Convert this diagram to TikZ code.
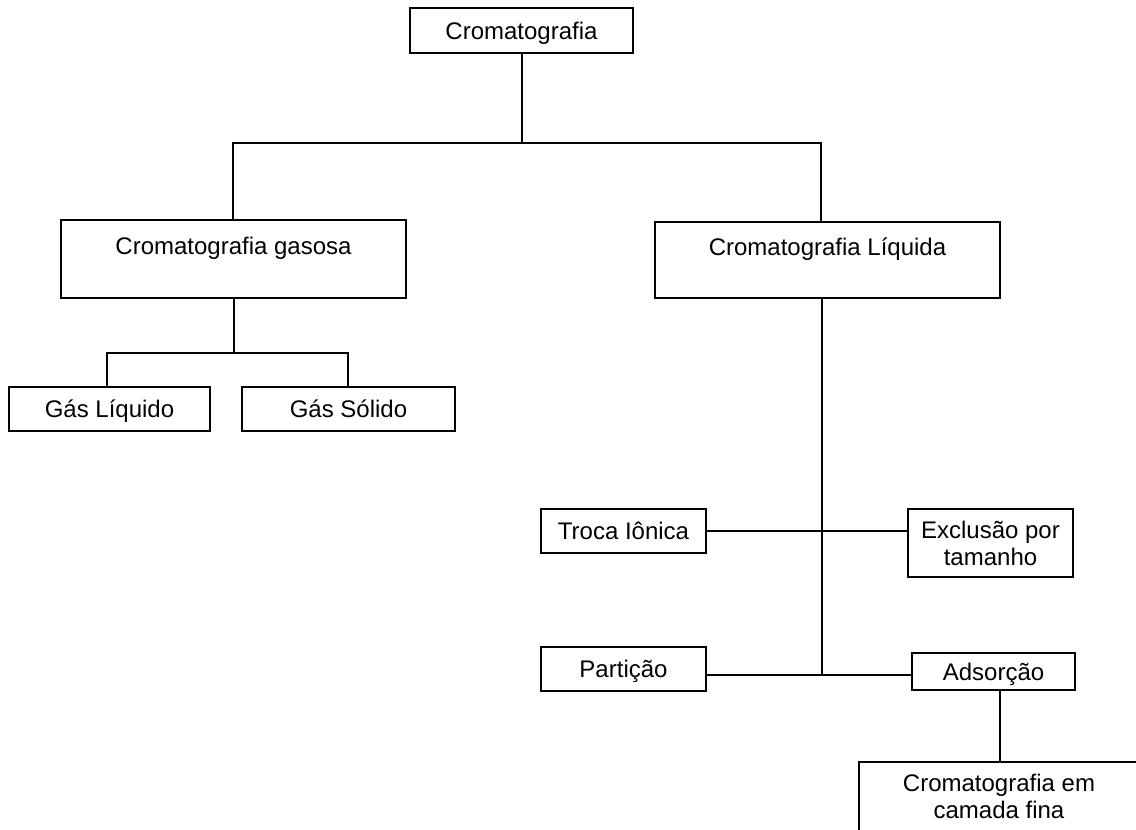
\documentclass[tikz,border=0pt]{standalone}
\usepackage{fontspec}
\setmainfont{Liberation Sans}
\begin{document}
\begin{tikzpicture}[x=0.5pt,y=-0.5pt,
  box/.style={draw, line width=1pt, inner sep=0pt, align=center, font=\fontsize{12}{13.5}\selectfont},
  oneline/.style={text height=9.6pt, text depth=1pt},
  conn/.style={line width=1pt}]
\useasboundingbox (0,0) rectangle (1136,830);
\clip (0,0) rectangle (1136,830);
% nodes
\node[box, oneline, minimum width=111.5pt, minimum height=22.5pt] (root) at (521.5,30.5) {Cromatografia};
\node[box, minimum width=172.5pt, minimum height=39pt] (gas) at (233.5,259) {Cromatografia gasosa\\\mbox{}};
\node[box, minimum width=172.5pt, minimum height=38pt] (liq) at (827.5,260) {Cromatografia Líquida\\\mbox{}};
\node[box, oneline, minimum width=100.5pt, minimum height=22pt] (gl) at (109.5,409) {Gás Líquido};
\node[box, oneline, minimum width=106.5pt, minimum height=22pt] (gs) at (348.5,409) {Gás Sólido};
\node[box, oneline, minimum width=82.5pt, minimum height=22pt] (troca) at (623.5,531) {Troca Iônica};
\node[box, minimum width=82.5pt, minimum height=34pt] (excl) at (990.5,543) {Exclusão por\\tamanho};
\node[box, oneline, minimum width=82.5pt, minimum height=22pt] (part) at (623.5,669) {Partição};
\node[box, oneline, minimum width=81.5pt, minimum height=18.5pt] (ads) at (993.5,671.5) {Adsorção};
\node[box, minimum width=140pt, minimum height=48pt] (cam) at (999,810) {Cromatografia em\\camada fina\\\mbox{}};
% junctions
\coordinate (j0) at (522,143);
\coordinate (jl) at (233,143);
\coordinate (jr) at (821,143);
\coordinate (g0) at (233,353);
\coordinate (ga) at (107,353);
\coordinate (gb) at (348,353);
\coordinate (lv) at (822,675);
\coordinate (cx) at (1000,720);
% connectors
\draw[conn] (root.south) -- (root.south |- j0);
\draw[conn] (jl |- gas.north) -- (jl) -- (jr) -- (jr |- liq.north);
\draw[conn] (gas.south) -- (gas.south |- g0);
\draw[conn] (ga |- gl.north) -- (ga) -- (gb) -- (gb |- gs.north);
\draw[conn] (lv |- liq.south) -- (lv);
\draw[conn] (troca.east) -- (excl.west |- troca.east);
\draw[conn] (part.east |- lv) -- (ads.west |- lv);
\draw[conn] (cx |- ads.south) -- (cx |- cam.north);
\end{tikzpicture}
\end{document}
